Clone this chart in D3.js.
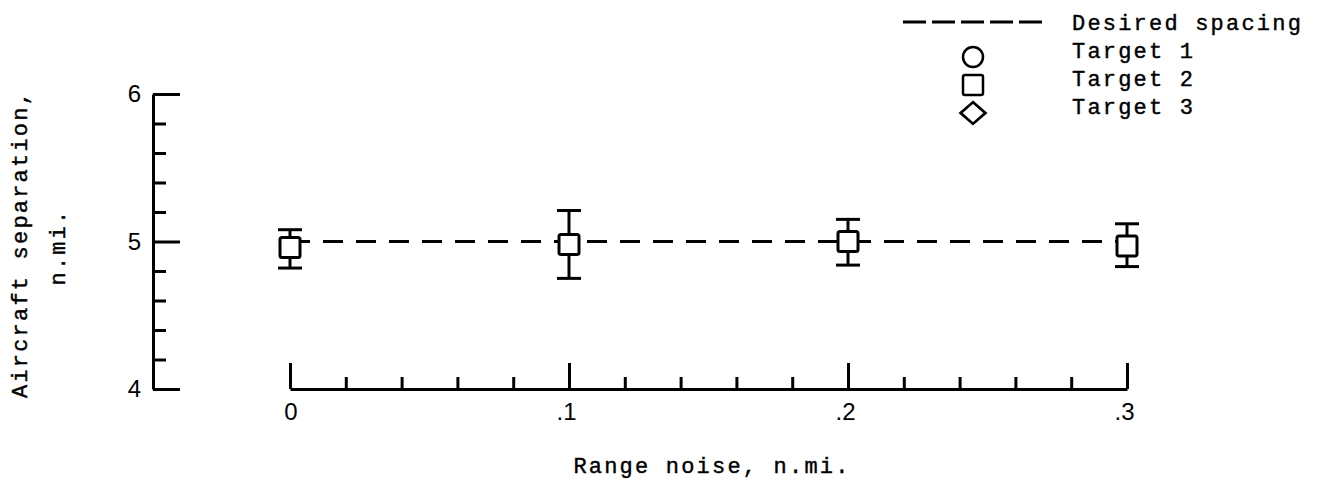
<!DOCTYPE html>
<html>
<head>
<meta charset="utf-8">
<script src="https://cdn.jsdelivr.net/npm/d3@7"></script>
<style>
  body { margin: 0; background: #fff; }
  svg { display: block; }
  .mono { font-family: "Liberation Mono", "DejaVu Sans Mono", monospace; font-size: 22px; letter-spacing: 2.2px; fill: #000; stroke: #000; stroke-width: 0.4px; }
  .axis text { font-family: "Liberation Sans", Arial, sans-serif; font-size: 24px; fill: #000; }
</style>
</head>
<body>
<div id="chart"></div>
<script>
// data
var rangeNoise = [0, 0.1, 0.2, 0.3];
var target2Mean = [4.96, 4.98, 5.00, 4.97];
var target2Upper = [5.08, 5.21, 5.15, 5.12];
var target2Lower = [4.82, 4.75, 4.84, 4.83];
var desiredSpacing = 5;
var yMajorTicks = [4, 5, 6];
var yMinorTicks = [4.2, 4.4, 4.6, 4.8, 5.2, 5.4, 5.6, 5.8];
var xMajorTicks = [0, 0.1, 0.2, 0.3];
var xMinorTicks = [0.02, 0.04, 0.06, 0.08, 0.12, 0.14, 0.16, 0.18, 0.22, 0.24, 0.26, 0.28];
var xTickLabels = ["0", ".1", ".2", ".3"];
var legendLabels = ["Desired spacing", "Target 1", "Target 2", "Target 3"];

var width = 1324, height = 484;

var svg = d3.select("#chart")
  .append("svg")
    .attr("width", width)
    .attr("height", height);

var x = d3.scaleLinear().domain([0, 0.3]).range([290, 1127]);
var y = d3.scaleLinear().domain([4, 6]).range([389, 94]);

// y axis: main line with ticks pointing right, labels on the left
var yAxisG = svg.append("g").attr("class", "axis")
  .attr("transform", "translate(153,0)")
  .call(d3.axisLeft(y).tickValues(yMajorTicks).tickSize(-27).tickSizeOuter(0).tickPadding(12).tickFormat(d3.format("d")));
svg.append("g").attr("class", "axis minor")
  .attr("transform", "translate(153,0)")
  .call(d3.axisLeft(y).tickValues(yMinorTicks).tickSize(-13).tickFormat(""))
  .call(g => g.select(".domain").remove());

// x axis: separate baseline, ticks pointing up
var xAxisG = svg.append("g").attr("class", "axis")
  .attr("transform", "translate(0," + y(4) + ")")
  .call(d3.axisBottom(x).tickValues(xMajorTicks).tickSize(-26).tickSizeOuter(0).tickPadding(14)
    .tickFormat((d, i) => xTickLabels[i]));
xAxisG.selectAll(".tick text").attr("text-anchor", "end").attr("dx", 7);
svg.append("g").attr("class", "axis minor")
  .attr("transform", "translate(0," + y(4) + ")")
  .call(d3.axisBottom(x).tickValues(xMinorTicks).tickSize(-12).tickFormat(""))
  .call(g => g.select(".domain").remove());

svg.selectAll(".axis path, .axis line")
  .attr("stroke", "#000")
  .attr("stroke-width", 3);

// axis titles
svg.append("text").attr("class", "mono")
  .attr("x", 712).attr("y", 473)
  .attr("text-anchor", "middle")
  .text("Range noise, n.mi.");

svg.append("text").attr("class", "mono")
  .attr("transform", "translate(27,244) rotate(-90)")
  .attr("text-anchor", "middle")
  .text("Aircraft separation,");
svg.append("text").attr("class", "mono")
  .attr("transform", "translate(65,247) rotate(-90)")
  .attr("text-anchor", "middle")
  .text("n.mi.");

// desired spacing line
svg.append("line")
  .attr("x1", x(rangeNoise[0])).attr("x2", x(rangeNoise[rangeNoise.length - 1]))
  .attr("y1", y(desiredSpacing)).attr("y2", y(desiredSpacing))
  .attr("stroke", "#000")
  .attr("stroke-width", 3)
  .attr("stroke-dasharray", "20,13");

// error bars + squares for target 2
var pts = rangeNoise.map((n, i) => ({n: n, mean: target2Mean[i], hi: target2Upper[i], lo: target2Lower[i]}));
var sq = 20, cap = 24;

var bars = svg.append("g")
  .attr("stroke", "#000")
  .attr("stroke-width", 3)
  .selectAll("g")
  .data(pts)
  .join("g");
bars.append("line")
  .attr("x1", d => x(d.n)).attr("x2", d => x(d.n))
  .attr("y1", d => y(d.hi)).attr("y2", d => y(d.lo));
bars.append("line")
  .attr("x1", d => x(d.n) - cap / 2).attr("x2", d => x(d.n) + cap / 2)
  .attr("y1", d => y(d.hi)).attr("y2", d => y(d.hi));
bars.append("line")
  .attr("x1", d => x(d.n) - cap / 2).attr("x2", d => x(d.n) + cap / 2)
  .attr("y1", d => y(d.lo)).attr("y2", d => y(d.lo));
bars.append("rect")
  .attr("x", d => x(d.n) - sq / 2)
  .attr("y", d => y(d.mean) - sq / 2)
  .attr("width", sq).attr("height", sq)
  .attr("rx", 2)
  .attr("fill", "#fff");

// legend
var legend = svg.append("g");
legend.append("line")
  .attr("x1", 903).attr("x2", 1043)
  .attr("y1", 22).attr("y2", 22)
  .attr("stroke", "#000").attr("stroke-width", 3)
  .attr("stroke-dasharray", "23,6");
legend.append("circle")
  .attr("cx", 973).attr("cy", 57).attr("r", 10)
  .attr("fill", "none").attr("stroke", "#000").attr("stroke-width", 2.5);
legend.append("rect")
  .attr("x", 963).attr("y", 75).attr("width", 20).attr("height", 20).attr("rx", 2)
  .attr("fill", "none").attr("stroke", "#000").attr("stroke-width", 2.5);
legend.append("path")
  .attr("d", d3.symbol().type(d3.symbolDiamond2).size(300)())
  .attr("transform", "translate(973,113) scale(1.15,1)")
  .attr("fill", "none").attr("stroke", "#000").attr("stroke-width", 2.5);

legend.selectAll("text.leg")
  .data(legendLabels)
  .join("text")
    .attr("class", "mono leg")
    .attr("x", 1072)
    .attr("y", (d, i) => 22 + i * 28)
    .attr("dy", "0.35em")
    .text(d => d);
</script>
</body>
</html>
